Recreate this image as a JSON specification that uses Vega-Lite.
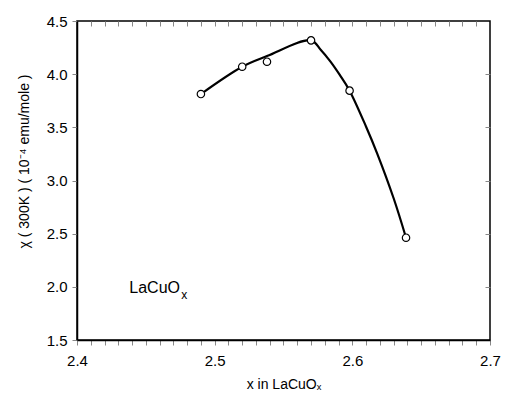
{
  "$schema": "https://vega.github.io/schema/vega-lite/v6.json",
  "width": 413,
  "height": 319,
  "autosize": {"type": "none"},
  "padding": {"left": 77, "top": 21, "right": 16, "bottom": 56},
  "background": "white",
  "config": {
    "view": {"stroke": "black", "strokeWidth": 1.5},
    "font": "Liberation Sans",
    "axis": {
      "domainColor": "black",
      "domainWidth": 1.5,
      "labelColor": "black",
      "labelFont": "Liberation Sans",
      "labelFontSize": 15,
      "titleFont": "Liberation Sans",
      "titleFontSize": 14,
      "titleFontWeight": "normal",
      "titleColor": "black",
      "grid": false
    }
  },
  "datasets": {
    "points": [
      {"x": 2.490, "chi": 3.813},
      {"x": 2.520, "chi": 4.070},
      {"x": 2.538, "chi": 4.117},
      {"x": 2.570, "chi": 4.318},
      {"x": 2.598, "chi": 3.845},
      {"x": 2.639, "chi": 2.462}
    ],
    "curve": [
      {"x": 2.490, "chi": 3.813},
      {"x": 2.520, "chi": 4.070},
      {"x": 2.538, "chi": 4.170},
      {"x": 2.570, "chi": 4.318},
      {"x": 2.577, "chi": 4.230},
      {"x": 2.584, "chi": 4.120},
      {"x": 2.591, "chi": 3.990},
      {"x": 2.598, "chi": 3.845},
      {"x": 2.610, "chi": 3.506},
      {"x": 2.618, "chi": 3.256},
      {"x": 2.630, "chi": 2.833},
      {"x": 2.639, "chi": 2.462}
    ],
    "label": [
      {"x": 2.438, "chi": 1.985, "t": "LaCuO"}
    ]
  },
  "layer": [
    {
      "data": {"name": "curve"},
      "mark": {"type": "line", "color": "black", "strokeWidth": 2.2, "interpolate": "catmull-rom"},
      "encoding": {
        "x": {
          "field": "x", "type": "quantitative",
          "scale": {"domain": [2.4, 2.7], "nice": false, "zero": false},
          "axis": {
            "orient": "bottom",
            "values": [2.4, 2.41, 2.42, 2.43, 2.44, 2.45, 2.46, 2.47, 2.48, 2.49, 2.5, 2.51, 2.52, 2.53, 2.54, 2.55, 2.56, 2.57, 2.58, 2.59, 2.6, 2.61, 2.62, 2.63, 2.64, 2.65, 2.66, 2.67, 2.68, 2.69, 2.7],
            "labelExpr": "abs(round(datum.value*100) % 10) == 0 ? format(datum.value, '.1f') : ''",
            "labelOverlap": false,
            "labelFlush": false,
            "labelPadding": 8,
            "title": "x in LaCuOₓ",
            "titlePadding": 9
          }
        },
        "y": {
          "field": "chi", "type": "quantitative",
          "scale": {"domain": [1.5, 4.5], "nice": false, "zero": false},
          "axis": {
            "orient": "left",
            "values": [1.5, 2.0, 2.5, 3.0, 3.5, 4.0, 4.5],
            "format": ".1f",
            "labelPadding": 5,
            "title": "χ ( 300K ) ( 10⁻⁴ emu/mole )",
            "titlePadding": 15,
            "titleY": 140
          }
        }
      }
    },
    {
      "data": {"name": "points"},
      "mark": {"type": "point", "shape": "circle", "filled": false, "fill": "white", "fillOpacity": 1, "stroke": "black", "strokeWidth": 1.2, "size": 55, "opacity": 1},
      "encoding": {
        "x": {
          "field": "x", "type": "quantitative",
          "axis": {
            "orient": "top",
            "offset": -5,
            "domain": false,
            "values": [2.41, 2.42, 2.43, 2.44, 2.45, 2.46, 2.47, 2.48, 2.49, 2.5, 2.51, 2.52, 2.53, 2.54, 2.55, 2.56, 2.57, 2.58, 2.59, 2.6, 2.61, 2.62, 2.63, 2.64, 2.65, 2.66, 2.67, 2.68, 2.69],
            "labels": false,
            "title": null
          }
        },
        "y": {
          "field": "chi", "type": "quantitative",
          "axis": {
            "orient": "right",
            "offset": -5,
            "domain": false,
            "values": [2.0, 2.5, 3.0, 3.5, 4.0],
            "labels": false,
            "title": null
          }
        }
      }
    },
    {
      "data": {"name": "label"},
      "mark": {"type": "text", "align": "left", "baseline": "middle", "fontSize": 16, "font": "Liberation Sans", "color": "black"},
      "encoding": {
        "x": {"field": "x", "type": "quantitative", "axis": null},
        "y": {"field": "chi", "type": "quantitative", "axis": null},
        "text": {"field": "t"}
      }
    },
    {
      "data": {"name": "label"},
      "mark": {"type": "text", "align": "left", "baseline": "middle", "fontSize": 12, "font": "Liberation Sans", "color": "black", "dx": 52, "dy": 7},
      "encoding": {
        "x": {"field": "x", "type": "quantitative", "axis": null},
        "y": {"field": "chi", "type": "quantitative", "axis": null},
        "text": {"value": "x"}
      }
    }
  ],
  "resolve": {"axis": {"x": "independent", "y": "independent"}}
}
